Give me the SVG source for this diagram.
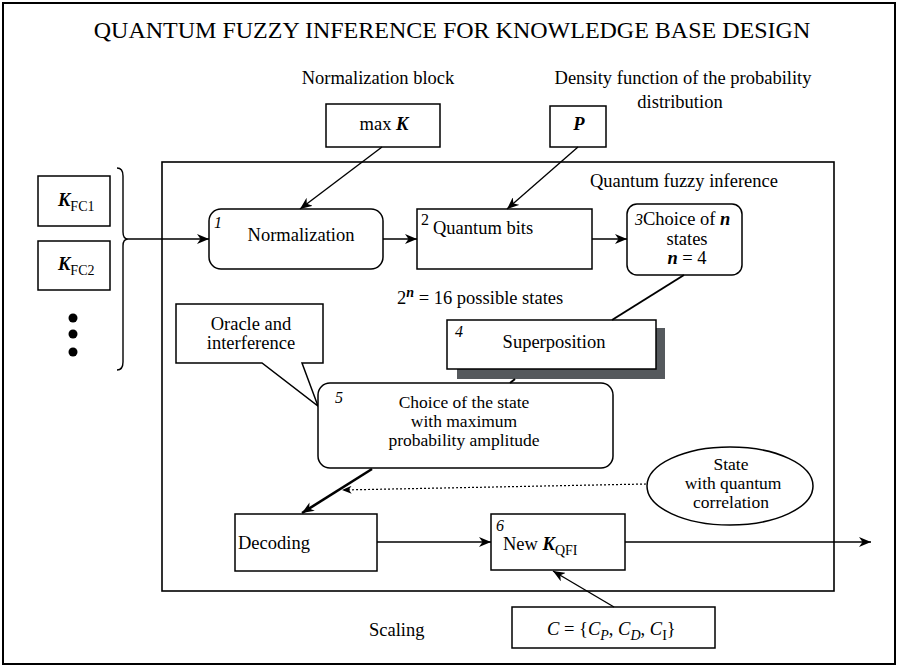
<svg xmlns="http://www.w3.org/2000/svg" width="899" height="667" viewBox="0 0 899 667">
<defs>
<style>
text{font-family:"Liberation Serif","Times New Roman",serif;font-size:18.5px;fill:#000}
.t{font-size:24px}
.c{text-anchor:middle}
.i{font-style:italic}
.bi{font-style:italic;font-weight:bold}
.sm{font-size:16px}
.sub{font-size:14px}
.st{font-size:17.5px}
.box{fill:#fff;stroke:#000;stroke-width:1.5}
.ln{fill:none;stroke:#000;stroke-width:1.4}
</style>
<marker id="ah" viewBox="0 0 12 10" refX="12" refY="5" markerWidth="12" markerHeight="10" markerUnits="userSpaceOnUse" orient="auto">
<path d="M0,0 L12,5 L0,10 L3.5,5 Z" fill="#000"/>
</marker>
<marker id="ahs" viewBox="0 0 12 10" refX="12" refY="5" markerWidth="10" markerHeight="8" markerUnits="userSpaceOnUse" orient="auto">
<path d="M0,0 L12,5 L0,10 L3.5,5 Z" fill="#000"/>
</marker>
</defs>
<rect x="0" y="0" width="899" height="667" fill="#fff"/>
<rect x="3" y="3" width="892" height="661" fill="none" stroke="#000" stroke-width="2"/>
<text class="t c" x="452" y="38">QUANTUM FUZZY INFERENCE FOR KNOWLEDGE BASE DESIGN</text>
<text class="c" x="378" y="84">Normalization block</text>
<text class="c" x="683" y="84">Density function of the probability</text>
<text class="c" x="680" y="108">distribution</text>
<g id="frame">
<rect x="162" y="162" width="672" height="429" fill="none" stroke="#000" stroke-width="1.6"/>
<text x="590" y="187">Quantum fuzzy inference</text>
</g>
<g id="maxK"><rect class="box" x="326" y="104" width="114" height="43"/><text class="c" x="384" y="130">max <tspan class="bi">K</tspan></text></g>
<g id="P"><rect class="box" x="550" y="106" width="56" height="41"/><text class="c bi" x="579" y="130">P</text></g>
<g id="KFC1"><rect class="box" x="38" y="176" width="72" height="50"/><text x="58" y="206"><tspan class="bi">K</tspan><tspan class="sub" dy="5">FC1</tspan></text></g>
<g id="KFC2"><rect class="box" x="38" y="241" width="72" height="49"/><text x="58" y="270"><tspan class="bi">K</tspan><tspan class="sub" dy="5">FC2</tspan></text></g>
<g id="dots" fill="#000"><circle cx="73" cy="318" r="4.5"/><circle cx="73" cy="334" r="4.5"/><circle cx="73" cy="352" r="4.5"/></g>
<g id="brace"><path class="ln" d="M117,168 Q123,168 123,176 V232 Q123,239 128,239 Q123,239 123,246 V362 Q123,370 117,370"/></g>
<g id="normalization"><rect class="box" x="209" y="209" width="174" height="60" rx="12"/><text class="i sm" x="214" y="228">1</text><text class="c" x="301" y="241">Normalization</text></g>
<g id="qbits"><rect class="box" x="417" y="209" width="175" height="60"/><text class="sm" x="421" y="225">2</text><text x="433" y="234">Quantum bits</text></g>
<g id="choiceN"><rect class="box" x="627" y="204" width="115" height="71" rx="10"/><text x="635" y="225"><tspan class="i sm">3</tspan>Choice of <tspan class="bi">n</tspan></text><text class="c" x="687" y="245">states</text><text class="c" x="687" y="264"><tspan class="bi">n</tspan> = 4</text></g>
<text x="397" y="304">2<tspan class="bi sub" dy="-7">n</tspan><tspan dy="7"> = 16 possible states</tspan></text>
<g id="superposition"><rect x="457" y="328" width="208" height="51" fill="#55595d"/><rect class="box" x="447" y="320" width="209" height="49"/><text class="i sm" x="455" y="337">4</text><text class="c" x="554" y="348">Superposition</text></g>
<g id="oracle"><path class="box" d="M176,304 H323 V363 H302 L318,406 L262,363 H176 Z"/><text class="c" x="251" y="330">Oracle and</text><text class="c" x="251" y="349">interference</text></g>
<g id="choiceState"><rect class="box" x="318" y="383" width="295" height="85" rx="12"/><text class="i sm" x="335" y="403">5</text><text class="c st" x="464" y="408">Choice of the state</text><text class="c st" x="464" y="427">with maximum</text><text class="c st" x="464" y="446">probability amplitude</text></g>
<g id="correlation"><ellipse cx="730" cy="486" rx="83" ry="39" fill="#fff" stroke="#000" stroke-width="1.5"/><text class="c st" x="731" y="470">State</text><text class="c st" x="733" y="489">with quantum</text><text class="c st" x="731" y="508">correlation</text></g>
<g id="decoding"><rect class="box" x="235" y="514" width="142" height="57"/><text x="238" y="549">Decoding</text></g>
<g id="newK"><rect class="box" x="491" y="514" width="134" height="56"/><text class="i sm" x="496" y="531">6</text><text x="503" y="550">New <tspan class="bi">K</tspan><tspan class="sub" dy="5">QFI</tspan></text></g>
<g id="Cset"><rect class="box" x="512" y="607" width="203" height="41"/><text x="547" y="635"><tspan class="i">C</tspan> = {<tspan class="i">C</tspan><tspan class="i sub" dy="5">P</tspan><tspan dy="-5">, </tspan><tspan class="i">C</tspan><tspan class="i sub" dy="5">D</tspan><tspan dy="-5">, </tspan><tspan class="i">C</tspan><tspan class="sub" dy="5">I</tspan><tspan dy="-5">}</tspan></text></g>
<text x="369" y="636">Scaling</text>
<g id="connectors">
<line class="ln" x1="128" y1="239" x2="209" y2="239" marker-end="url(#ah)"/>
<line class="ln" x1="383" y1="239" x2="417" y2="239" marker-end="url(#ah)"/>
<line class="ln" x1="592" y1="239" x2="627" y2="239" marker-end="url(#ah)"/>
<line class="ln" x1="382" y1="147" x2="300" y2="209" marker-end="url(#ah)"/>
<line class="ln" x1="578" y1="147" x2="507" y2="209" marker-end="url(#ah)"/>
<line x1="684" y1="275" x2="612" y2="320" stroke="#000" stroke-width="2"/>
<line x1="515" y1="379" x2="510" y2="383" stroke="#000" stroke-width="2"/>
<line x1="372" y1="469" x2="302" y2="513" stroke="#000" stroke-width="2.6" marker-end="url(#ah)"/>
<line x1="646" y1="484" x2="342" y2="490" stroke="#000" stroke-width="1.2" stroke-dasharray="2,2" marker-end="url(#ahs)"/>
<line class="ln" x1="377" y1="542" x2="491" y2="542" marker-end="url(#ah)"/>
<line class="ln" x1="625" y1="542" x2="871" y2="542" marker-end="url(#ah)"/>
<line class="ln" x1="614" y1="607" x2="553" y2="571" marker-end="url(#ah)"/>
</g>
</svg>
